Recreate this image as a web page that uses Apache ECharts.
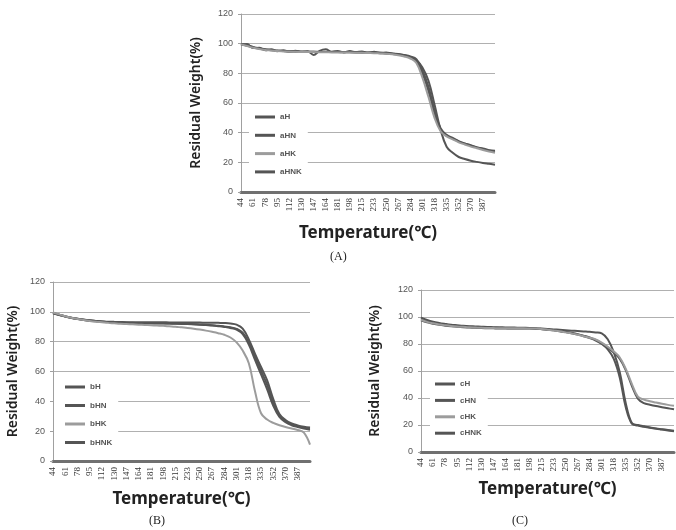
<!DOCTYPE html>
<html>
<head>
<meta charset="utf-8">
<script src="https://cdn.jsdelivr.net/npm/echarts@6/dist/echarts.min.js"></script>
<style>
  html, body { margin: 0; padding: 0; background: #fff; }
  #chart { width: 676px; height: 530px; }
</style>
</head>
<body>
<div id="chart"></div>
<script>
// temperature categories (every other one is labelled)
const temps = [44, 52, 61, 69, 78, 86, 95, 103, 112, 121,
  130, 138, 147, 155, 164, 172, 181, 189, 198, 206,
  215, 224, 233, 241, 250, 258, 267, 275, 284, 292,
  301, 309, 318, 326, 335, 343, 352, 361, 370, 378,
  387, 395, 404];
const tickLabels = [44, 61, 78, 95, 112, 130, 147, 164, 181, 198, 215,
  233, 250, 267, 284, 301, 318, 335, 352, 370, 387];
const weightTicks = [0, 20, 40, 60, 80, 100, 120];

// (A)
const aH = [99.6, 98.6, 97.4, 96.6, 96.0, 95.6, 95.2, 95.0, 94.8, 94.7,
  94.6, 94.5, 94.5, 94.4, 94.4, 94.3, 94.3, 94.2, 94.2, 94.1,
  94.0, 93.9, 93.8, 93.6, 93.4, 93.1, 92.6, 91.9, 90.8, 88.8,
  84.0, 75.0, 59.0, 42.0, 30.5, 26.5, 23.6, 22.2, 21.1, 20.3,
  19.6, 19.0, 18.4];
const aHN = [99.0, 99.8, 97.0, 97.2, 95.6, 96.3, 94.9, 95.5, 94.6, 95.2,
  94.3, 94.9, 92.4, 95.2, 96.2, 94.6, 95.1, 94.1, 95.0, 94.3,
  94.7, 93.9, 94.5, 93.9, 94.0, 93.3, 93.0, 92.2, 91.0, 88.3,
  80.0, 68.0, 53.0, 42.0, 38.0, 36.0, 34.0, 32.6, 31.2, 30.1,
  29.0, 28.0, 27.2];
const aHK = [99.4, 98.4, 97.2, 96.4, 95.8, 95.4, 95.0, 94.8, 94.6, 94.5,
  94.4, 94.3, 94.3, 94.2, 94.2, 94.1, 94.1, 94.0, 94.0, 93.9,
  93.8, 93.7, 93.6, 93.4, 93.2, 92.8, 92.2, 91.4, 90.0, 87.0,
  77.0, 64.0, 50.0, 41.0, 37.5, 35.5, 33.5, 32.0, 30.6, 29.5,
  28.3, 27.3, 26.5];
const aHNK = [99.8, 99.0, 97.8, 96.9, 96.2, 95.8, 95.4, 95.1, 94.9, 94.8,
  94.7, 94.6, 94.6, 94.5, 94.5, 94.4, 94.4, 94.3, 94.3, 94.2,
  94.1, 94.0, 93.9, 93.8, 93.6, 93.3, 92.9, 92.3, 91.4, 89.5,
  82.0, 71.0, 55.0, 43.0, 38.5, 36.4, 34.3, 32.8, 31.6, 30.1,
  29.4, 28.2, 27.8];

// (B)
const bH = [99.0, 97.9, 96.8, 95.9, 95.2, 94.6, 94.1, 93.7, 93.4, 93.1,
  92.9, 92.7, 92.6, 92.5, 92.4, 92.3, 92.3, 92.2, 92.2, 92.1,
  92.0, 91.9, 91.8, 91.6, 91.4, 91.1, 90.8, 90.4, 89.9, 89.2,
  88.0, 85.0, 78.0, 68.0, 58.0, 48.0, 37.0, 29.5, 26.0, 24.0,
  22.8, 21.8, 21.0];
const bHN = [99.2, 98.0, 96.9, 96.0, 95.3, 94.7, 94.2, 93.8, 93.5, 93.2,
  93.0, 92.8, 92.7, 92.6, 92.5, 92.4, 92.4, 92.3, 92.3, 92.2,
  92.1, 92.0, 91.9, 91.7, 91.5, 91.3, 91.0, 90.7, 90.2, 89.6,
  88.6, 86.0, 79.5, 70.0, 60.5, 51.0, 39.0, 30.5, 26.8, 24.6,
  23.4, 22.5, 21.8];
const bHK = [99.5, 98.3, 97.0, 96.0, 95.2, 94.5, 93.9, 93.4, 93.0, 92.6,
  92.3, 92.0, 91.8, 91.6, 91.4, 91.2, 91.0, 90.8, 90.6, 90.3,
  90.0, 89.6, 89.2, 88.7, 88.1, 87.4, 86.6, 85.7, 84.6, 82.8,
  79.5, 74.0, 65.5, 47.0, 32.0, 27.8, 25.5, 24.0, 22.8, 21.8,
  20.8, 19.0, 11.0];
const bHNK = [99.3, 98.1, 97.0, 96.1, 95.4, 94.8, 94.3, 93.9, 93.6, 93.4,
  93.3, 93.2, 93.1, 93.1, 93.0, 93.0, 93.0, 93.0, 93.0, 92.9,
  92.9, 92.9, 92.8, 92.8, 92.8, 92.7, 92.7, 92.6, 92.5, 92.2,
  91.4, 88.8, 81.5, 72.0, 63.0, 54.0, 41.5, 31.5, 27.5, 25.2,
  23.9, 23.0, 22.4];

// (C)
const cH = [99.5, 97.8, 96.5, 95.6, 94.9, 94.3, 93.9, 93.5, 93.2, 93.0,
  92.8, 92.6, 92.5, 92.4, 92.3, 92.2, 92.1, 92.0, 91.9, 91.7,
  91.4, 91.1, 90.8, 90.5, 90.2, 89.9, 89.6, 89.3, 89.0, 88.6,
  87.8, 83.5, 74.0, 59.0, 36.0, 21.5, 20.0, 19.0, 18.2, 17.5,
  16.9, 16.3, 15.7];
const cHN = [97.5, 96.0, 95.0, 94.2, 93.6, 93.1, 92.7, 92.4, 92.2, 92.0,
  91.8, 91.7, 91.6, 91.5, 91.5, 91.4, 91.4, 91.4, 91.4, 91.3,
  91.0, 90.6, 90.1, 89.5, 88.8, 88.0, 87.0, 85.8, 84.4, 82.6,
  80.0, 76.0, 69.0, 55.0, 33.0, 21.0, 19.6, 18.7, 17.9, 17.2,
  16.6, 16.0, 15.4];
const cHK = [98.0, 96.4, 95.3, 94.5, 93.9, 93.4, 93.0, 92.7, 92.4, 92.2,
  92.0, 91.9, 91.8, 91.7, 91.7, 91.6, 91.6, 91.6, 91.5, 91.4,
  91.1, 90.6, 90.0, 89.4, 88.6, 87.8, 86.9, 85.8, 84.6, 83.3,
  81.0, 78.0, 74.5, 70.0, 61.5, 50.5, 41.0, 38.8, 37.6, 36.6,
  35.7, 34.9, 34.2];
const cHNK = [99.0, 97.2, 95.9, 95.0, 94.3, 93.8, 93.4, 93.0, 92.7, 92.5,
  92.3, 92.1, 92.0, 91.9, 91.8, 91.7, 91.7, 91.6, 91.6, 91.5,
  91.2, 90.8, 90.3, 89.7, 89.0, 88.2, 87.3, 86.2, 84.9, 83.0,
  80.5, 77.5, 73.5, 69.0, 60.5, 49.0, 39.5, 36.2, 35.0, 34.0,
  33.2, 32.4, 31.6];

const DARK = '#555555';
const LIGHT = '#9c9c9c';

const panels = [
  { grid: { left: 241, top: 14, width: 254, height: 178 },
    names: ['aH', 'aHN', 'aHK', 'aHNK'], data: [aH, aHN, aHK, aHNK],
    legend: { left: 249, top: 108, gap: 8.3, pad: [4, 6, 4, 6] },
    yGap: 38, xGap: 33 },
  { grid: { left: 53, top: 282, width: 257, height: 179 },
    names: ['bH', 'bHN', 'bHK', 'bHNK'], data: [bH, bHN, bHK, bHNK],
    legend: { left: 54, top: 378, gap: 8.5, pad: [4, 6, 4, 11] },
    yGap: 33, xGap: 30 },
  { grid: { left: 421, top: 290, width: 253, height: 162 },
    names: ['cH', 'cHN', 'cHK', 'cHNK'], data: [cH, cHN, cHK, cHNK],
    legend: { left: 430, top: 375, gap: 6.4, pad: [4, 6, 4, 5] },
    yGap: 39, xGap: 29 },
];
const colors = [DARK, DARK, LIGHT, DARK];

const chart = echarts.init(document.getElementById('chart'), null, { renderer: 'canvas' });

const option = {
  backgroundColor: '#fff',
  animation: false,
  grid: [],
  xAxis: [],
  yAxis: [],
  legend: [],
  series: [],
  graphic: [
    { type: 'text', left: 330, top: 251, style: { text: '(A)', font: '12px "Liberation Serif"', fill: '#222' } },
    { type: 'text', left: 149, top: 515, style: { text: '(B)', font: '12px "Liberation Serif"', fill: '#222' } },
    { type: 'text', left: 512, top: 515, style: { text: '(C)', font: '12px "Liberation Serif"', fill: '#222' } },
  ],
};

panels.forEach((p, k) => {
  option.grid.push(p.grid);
  option.xAxis.push({
    type: 'category',
    gridIndex: k,
    data: temps,
    boundaryGap: false,
    name: 'Temperature(℃)',
    nameLocation: 'middle',
    nameGap: p.xGap,
    nameTextStyle: {
      fontFamily: 'Noto Sans, Noto Sans CJK SC',
      fontWeight: 'bold',
      fontSize: 17,
      color: '#222',
      verticalAlign: 'top',
    },
    axisLine: { onZero: true, lineStyle: { color: '#707070', width: 3 } },
    axisTick: { show: false },
    axisLabel: {
      rotate: 90,
      margin: 6,
      interval: (i, v) => tickLabels.includes(+v),
      fontFamily: 'Liberation Serif',
      fontSize: 9,
      color: '#333',
    },
    splitLine: { show: false },
  });
  option.yAxis.push({
    type: 'value',
    gridIndex: k,
    min: 0,
    max: 120,
    interval: 20,
    name: 'Residual Weight(%)',
    nameLocation: 'middle',
    nameGap: p.yGap,
    nameTextStyle: {
      fontFamily: 'Noto Sans',
      fontWeight: 600,
      fontSize: 14,
      color: '#222',
    },
    axisLine: { show: true, lineStyle: { color: '#a0a0a0', width: 1 } },
    axisTick: { show: true, length: 3, lineStyle: { color: '#a0a0a0' } },
    axisLabel: {
      margin: 8,
      fontFamily: 'Liberation Sans',
      fontSize: 9,
      color: '#555',
      formatter: (v) => (weightTicks.includes(v) ? String(v) : ''),
    },
    splitLine: { show: true, lineStyle: { color: '#b0b0b0', width: 1 } },
  });
  option.legend.push({
    data: p.names,
    orient: 'vertical',
    left: p.legend.left,
    top: p.legend.top,
    padding: p.legend.pad,
    itemGap: p.legend.gap,
    itemWidth: 20,
    itemHeight: 10,
    icon: 'path://M0,0H20V3H0Z',
    backgroundColor: '#fff',
    textStyle: {
      fontFamily: 'Liberation Sans',
      fontWeight: 'bold',
      fontSize: 8,
      lineHeight: 10,
      color: '#555',
    },
  });
  p.names.forEach((name, j) => {
    option.series.push({
      name: name,
      type: 'line',
      xAxisIndex: k,
      yAxisIndex: k,
      data: p.data[j],
      smooth: 0.4,
      symbol: 'none',
      z: j === 2 ? 3 : 2,
      lineStyle: { color: colors[j], width: 2 },
      itemStyle: { color: colors[j] },
    });
  });
});

chart.setOption(option);
</script>
</body>
</html>
